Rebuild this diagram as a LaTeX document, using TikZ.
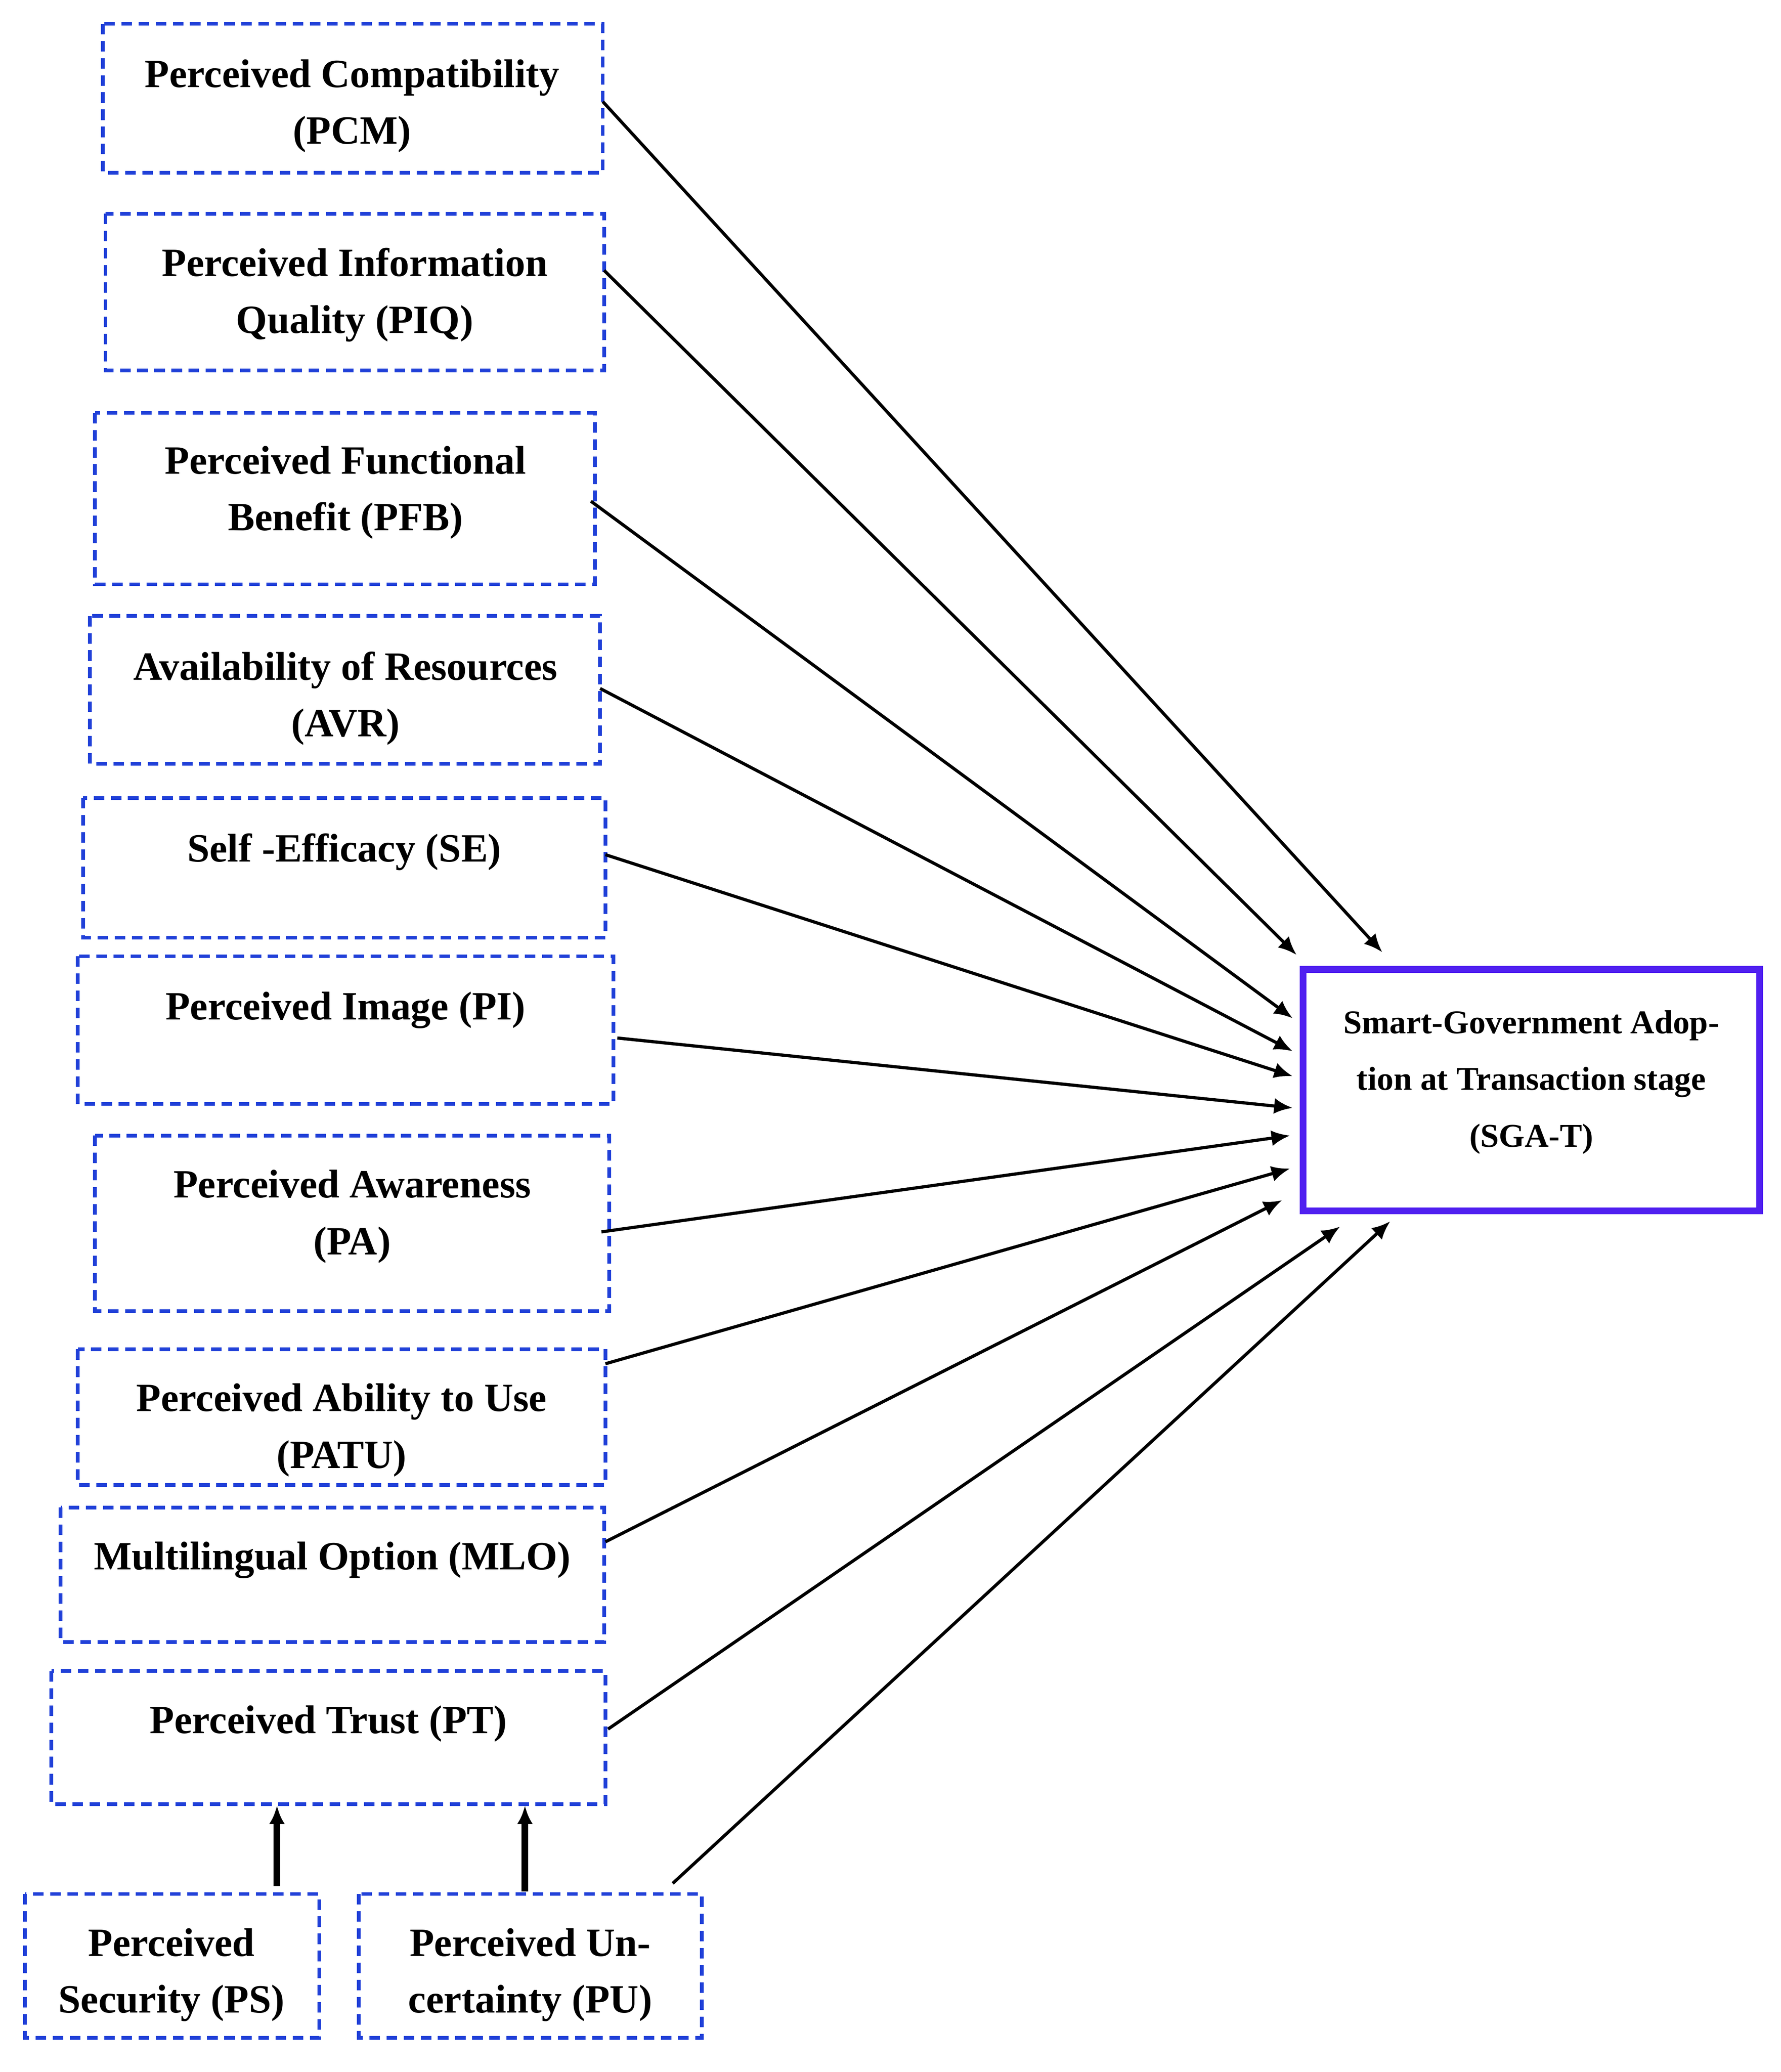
\documentclass[tikz,border=0pt]{standalone}
\usepackage{fontspec}
\setmainfont{Liberation Serif}
\usetikzlibrary{arrows.meta}
\definecolor{bx}{HTML}{2040D8}
\definecolor{sg}{HTML}{5020F0}
\begin{document}
\begin{tikzpicture}[x=0.5pt,y=-0.5pt,
  box/.style={draw=bx,line width=1.4pt,dash pattern=on 4pt off 2.5pt},
  txt/.style={font=\fontsize{15.2}{21.5}\selectfont\bfseries,align=center,anchor=north},
  arr/.style={-{Latex[length=7pt,width=6pt]},line width=1.2pt},
  thk/.style={-{Latex[length=7pt,width=6pt]},line width=2.6pt}]
\useasboundingbox (0,0) rectangle (1350,1571);
\draw[box] (78,18) rectangle (457,131);
\draw[box] (80,162) rectangle (458,281);
\draw[box] (72,313) rectangle (451,443);
\draw[box] (68,467) rectangle (455,579);
\draw[box] (63,605) rectangle (459,711);
\draw[box] (59,725) rectangle (465,837);
\draw[box] (72,861) rectangle (462,994);
\draw[box] (59,1023) rectangle (459,1126);
\draw[box] (46,1143) rectangle (458,1245);
\draw[box] (39,1267) rectangle (459,1368);
\draw[box] (19,1436) rectangle (242,1545);
\draw[box] (272,1436) rectangle (532,1545);
\draw[draw=sg,line width=2.6pt] (988,735) rectangle (1334,918);
\node[txt] (pcm) at (267,38) {Perceived Compatibility\\(PCM)};
\node[txt] (piq) at (269,181) {Perceived Information\\Quality (PIQ)};
\node[txt] (pfb) at (262,331) {Perceived Functional\\Benefit (PFB)};
\node[txt] (avr) at (262,487) {Availability of Resources\\(AVR)};
\node[txt] (se) at (261,625) {Self -Efficacy (SE)};
\node[txt] (pi) at (262,745) {Perceived Image (PI)};
\node[txt] (pa) at (267,880) {Perceived Awareness\\(PA)};
\node[txt] (patu) at (259,1042) {Perceived Ability to Use\\(PATU)};
\node[txt] (mlo) at (252,1162) {Multilingual Option (MLO)};
\node[txt] (pt) at (249,1286) {Perceived Trust (PT)};
\node[txt] (ps) at (130,1455) {Perceived\\Security (PS)};
\node[txt] (pu) at (402,1455) {Perceived Un-\\certainty (PU)};
\node[txt,font=\fontsize{12.6}{21.5}\selectfont\bfseries] (sga) at (1161,759) {Smart-Government Adop-\\tion at Transaction stage\\(SGA-T)};
\coordinate (a1) at (457,77); \coordinate (b1) at (1048,722);
\coordinate (a2) at (458,205); \coordinate (b2) at (983,724);
\coordinate (a3) at (448,380); \coordinate (b3) at (980,772);
\coordinate (a4) at (455,522); \coordinate (b4) at (980,797);
\coordinate (a5) at (459,648); \coordinate (b5) at (980,816);
\coordinate (a6) at (468,787); \coordinate (b6) at (980,840);
\coordinate (a7) at (456,934); \coordinate (b7) at (978,861);
\coordinate (a8) at (459,1034); \coordinate (b8) at (978,886);
\coordinate (a9) at (459,1169); \coordinate (b9) at (972,910);
\coordinate (a10) at (461,1311); \coordinate (b10) at (1016,930);
\coordinate (a11) at (510,1428); \coordinate (b11) at (1054,926);
\foreach \i in {1,...,11} \draw[arr] (a\i) -- (b\i);
\coordinate (s1) at (210,1430); \coordinate (t1) at (210,1369);
\coordinate (s2) at (398,1434); \coordinate (t2) at (398,1369);
\draw[thk] (s1) -- (t1);
\draw[thk] (s2) -- (t2);
\end{tikzpicture}
\end{document}
